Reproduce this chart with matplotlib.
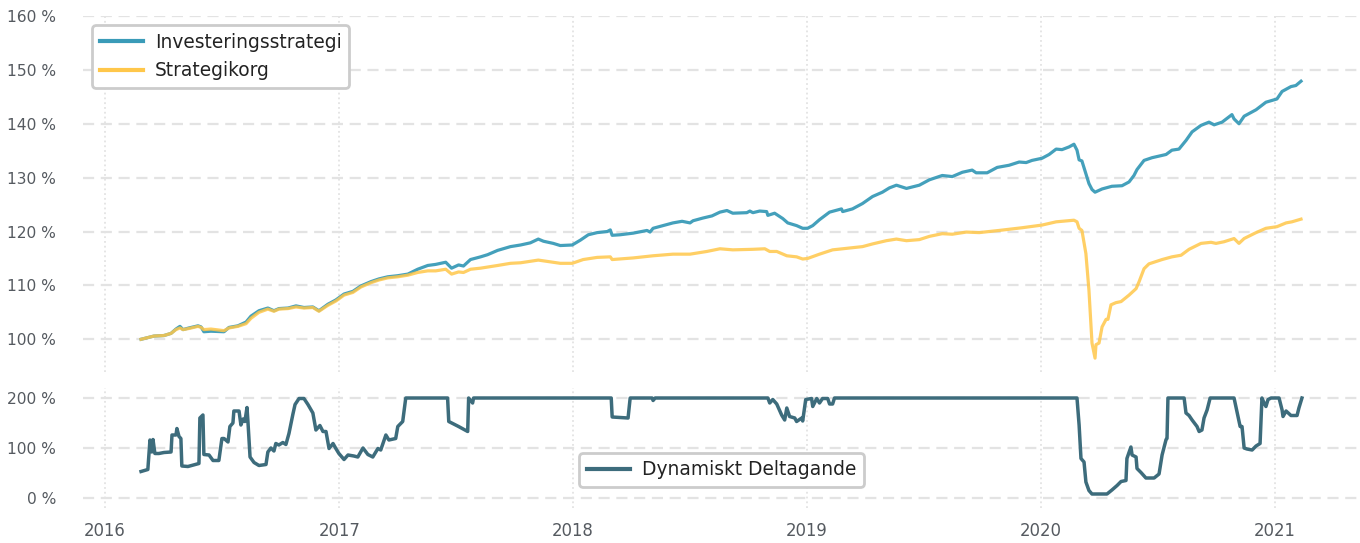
import matplotlib
matplotlib.use("Agg")
import matplotlib.pyplot as plt
import matplotlib.dates as mdates
import numpy as np
import pandas as pd

# decimal-year positions and values
inv_t = [
    2016.154, 2016.209, 2016.252, 2016.282, 2016.303, 2016.320, 2016.333, 2016.358, 2016.397, 2016.410,
    2016.422, 2016.452, 2016.508, 2016.529, 2016.567, 2016.602, 2016.623, 2016.657, 2016.695, 2016.721,
    2016.742, 2016.781, 2016.815, 2016.849, 2016.887, 2016.913, 2016.951, 2016.985, 2017.020, 2017.058,
    2017.092, 2017.135, 2017.169, 2017.207, 2017.250, 2017.293, 2017.335, 2017.378, 2017.412, 2017.455,
    2017.480, 2017.510, 2017.531, 2017.561, 2017.604, 2017.634, 2017.677, 2017.732, 2017.775, 2017.817,
    2017.851, 2017.873, 2017.915, 2017.945, 2017.996, 2018.031, 2018.065, 2018.103, 2018.146, 2018.159,
    2018.167, 2018.201, 2018.257, 2018.316, 2018.329, 2018.342, 2018.385, 2018.427, 2018.466, 2018.500,
    2018.513, 2018.555, 2018.594, 2018.628, 2018.658, 2018.683, 2018.743, 2018.756, 2018.769, 2018.798,
    2018.828, 2018.833, 2018.862, 2018.897, 2018.918, 2018.956, 2018.982, 2019.003, 2019.025, 2019.054,
    2019.097, 2019.148, 2019.153, 2019.195, 2019.238, 2019.281, 2019.323, 2019.353, 2019.383, 2019.426,
    2019.481, 2019.524, 2019.579, 2019.622, 2019.665, 2019.707, 2019.724, 2019.771, 2019.814, 2019.865,
    2019.908, 2019.938, 2019.963, 2020.006, 2020.036, 2020.066, 2020.091, 2020.121, 2020.142, 2020.155,
    2020.164, 2020.176, 2020.206, 2020.219, 2020.232, 2020.262, 2020.304, 2020.347, 2020.377, 2020.398,
    2020.411, 2020.441, 2020.475, 2020.535, 2020.560, 2020.590, 2020.620, 2020.646, 2020.684, 2020.718,
    2020.740, 2020.774, 2020.816, 2020.825, 2020.846, 2020.868, 2020.919, 2020.961, 2021.008, 2021.030,
    2021.068, 2021.089, 2021.111,
]
inv_v = [
    100.0, 100.6, 100.7, 101.1, 101.9, 102.4, 101.8, 102.1, 102.5, 102.3,
    101.4, 101.5, 101.4, 102.2, 102.5, 103.2, 104.3, 105.3, 105.8, 105.3,
    105.7, 105.8, 106.2, 105.9, 106.0, 105.3, 106.5, 107.3, 108.4, 108.9,
    109.9, 110.7, 111.2, 111.6, 111.8, 112.1, 113.0, 113.7, 113.9, 114.3,
    113.2, 113.8, 113.6, 114.8, 115.3, 115.7, 116.5, 117.2, 117.5, 117.9,
    118.6, 118.2, 117.8, 117.4, 117.5, 118.4, 119.4, 119.8, 120.0, 120.3,
    119.3, 119.4, 119.7, 120.2, 119.9, 120.6, 121.1, 121.6, 121.9, 121.6,
    122.0, 122.5, 122.9, 123.6, 123.9, 123.4, 123.5, 123.8, 123.5, 123.8,
    123.7, 123.0, 123.4, 122.4, 121.6, 121.1, 120.6, 120.6, 121.1, 122.2,
    123.6, 124.2, 123.7, 124.2, 125.2, 126.5, 127.3, 128.1, 128.6, 128.0,
    128.6, 129.6, 130.4, 130.2, 131.0, 131.4, 130.9, 130.9, 131.9, 132.3,
    132.9, 132.8, 133.2, 133.6, 134.3, 135.3, 135.2, 135.7, 136.2, 135.1,
    133.3, 133.1, 128.9, 127.8, 127.3, 127.9, 128.4, 128.5, 129.2, 130.4,
    131.5, 133.2, 133.7, 134.3, 135.1, 135.3, 136.9, 138.5, 139.7, 140.3,
    139.8, 140.3, 141.7, 140.9, 140.0, 141.4, 142.6, 144.0, 144.6, 146.0,
    146.9, 147.1, 147.9,
]

korg_t = [
    2016.154, 2016.209, 2016.252, 2016.282, 2016.303, 2016.320, 2016.333, 2016.358, 2016.397, 2016.410,
    2016.422, 2016.452, 2016.508, 2016.529, 2016.567, 2016.602, 2016.623, 2016.657, 2016.695, 2016.721,
    2016.742, 2016.781, 2016.815, 2016.849, 2016.887, 2016.913, 2016.951, 2016.985, 2017.020, 2017.058,
    2017.092, 2017.135, 2017.169, 2017.207, 2017.250, 2017.293, 2017.335, 2017.378, 2017.412, 2017.455,
    2017.480, 2017.510, 2017.531, 2017.561, 2017.604, 2017.677, 2017.732, 2017.775, 2017.851, 2017.945,
    2017.996, 2018.043, 2018.103, 2018.159, 2018.167, 2018.257, 2018.342, 2018.427, 2018.500, 2018.572,
    2018.628, 2018.683, 2018.769, 2018.820, 2018.841, 2018.871, 2018.914, 2018.956, 2018.982, 2019.003,
    2019.054, 2019.110, 2019.153, 2019.195, 2019.238, 2019.281, 2019.340, 2019.383, 2019.426, 2019.481,
    2019.524, 2019.579, 2019.622, 2019.682, 2019.737, 2019.822, 2019.920, 2020.006, 2020.066, 2020.142,
    2020.155, 2020.164, 2020.176, 2020.193, 2020.206, 2020.219, 2020.232, 2020.236, 2020.249, 2020.262,
    2020.279, 2020.287, 2020.300, 2020.321, 2020.343, 2020.377, 2020.407, 2020.420, 2020.441, 2020.462,
    2020.518, 2020.560, 2020.599, 2020.633, 2020.684, 2020.727, 2020.748, 2020.782, 2020.825, 2020.846,
    2020.868, 2020.919, 2020.961, 2021.008, 2021.047, 2021.072, 2021.111,
]
korg_v = [
    100.0, 100.6, 100.7, 101.1, 101.8, 102.1, 101.8, 102.0, 102.4, 102.2,
    101.8, 101.9, 101.6, 102.1, 102.4, 102.9, 103.9, 105.0, 105.6, 105.2,
    105.6, 105.7, 106.0, 105.8, 105.9, 105.2, 106.3, 107.1, 108.2, 108.7,
    109.7, 110.5, 111.0, 111.4, 111.6, 111.9, 112.4, 112.7, 112.7, 113.0,
    112.1, 112.5, 112.4, 113.0, 113.2, 113.7, 114.1, 114.2, 114.7, 114.1,
    114.1, 114.8, 115.2, 115.3, 114.8, 115.1, 115.5, 115.8, 115.8, 116.3,
    116.8, 116.6, 116.7, 116.8, 116.3, 116.3, 115.5, 115.3, 114.9, 115.0,
    115.8, 116.6, 116.8, 117.0, 117.2, 117.7, 118.3, 118.6, 118.3, 118.5,
    119.1, 119.6, 119.5, 119.9, 119.8, 120.2, 120.7, 121.2, 121.8, 122.1,
    121.8, 120.6, 120.2, 115.9, 109.1, 99.3, 96.5, 99.0, 99.3, 102.3,
    103.7, 103.7, 106.4, 106.8, 107.0, 108.2, 109.4, 110.7, 113.1, 114.0,
    114.8, 115.3, 115.6, 116.7, 117.8, 118.0, 117.8, 118.1, 118.7, 117.8,
    118.7, 119.8, 120.6, 120.9, 121.6, 121.8, 122.3,
]

dyn_t = [
    2016.154, 2016.183, 2016.192, 2016.200, 2016.205, 2016.213, 2016.230, 2016.252, 2016.282, 2016.286,
    2016.303, 2016.307, 2016.316, 2016.324, 2016.328, 2016.354, 2016.401, 2016.405, 2016.418, 2016.422,
    2016.444, 2016.461, 2016.486, 2016.499, 2016.508, 2016.525, 2016.533, 2016.546, 2016.550, 2016.572,
    2016.580, 2016.589, 2016.597, 2016.606, 2016.610, 2016.619, 2016.636, 2016.657, 2016.687, 2016.695,
    2016.708, 2016.721, 2016.729, 2016.742, 2016.759, 2016.772, 2016.785, 2016.802, 2016.811, 2016.828,
    2016.849, 2016.866, 2016.887, 2016.900, 2016.917, 2016.930, 2016.943, 2016.956, 2016.973, 2016.985,
    2016.998, 2017.020, 2017.037, 2017.062, 2017.079, 2017.101, 2017.122, 2017.143, 2017.165, 2017.177,
    2017.199, 2017.212, 2017.241, 2017.250, 2017.271, 2017.284, 2017.463, 2017.468, 2017.510, 2017.549,
    2017.553, 2017.570, 2017.574, 2018.163, 2018.167, 2018.235, 2018.244, 2018.338, 2018.342, 2018.351,
    2018.833, 2018.841, 2018.854, 2018.871, 2018.892, 2018.905, 2018.914, 2018.926, 2018.948, 2018.956,
    2018.978, 2018.982, 2018.995, 2019.020, 2019.025, 2019.042, 2019.054, 2019.067, 2019.089, 2019.097,
    2019.110, 2019.118, 2020.155, 2020.164, 2020.172, 2020.185, 2020.193, 2020.206, 2020.219, 2020.283,
    2020.304, 2020.326, 2020.343, 2020.364, 2020.368, 2020.385, 2020.390, 2020.407, 2020.411, 2020.428,
    2020.449, 2020.484, 2020.505, 2020.518, 2020.535, 2020.539, 2020.543, 2020.612, 2020.620, 2020.633,
    2020.646, 2020.667, 2020.676, 2020.688, 2020.697, 2020.710, 2020.723, 2020.825, 2020.842, 2020.851,
    2020.859, 2020.868, 2020.880, 2020.902, 2020.919, 2020.936, 2020.944, 2020.953, 2020.961, 2020.970,
    2020.983, 2021.017, 2021.030, 2021.034, 2021.047, 2021.068, 2021.094, 2021.102, 2021.115,
]
dyn_v = [
    53, 57, 116, 92, 117, 89, 89, 91, 92, 126,
    126, 139, 123, 119, 64, 63, 69, 160, 166, 87,
    86, 75, 75, 119, 119, 112, 143, 150, 174, 174,
    146, 158, 153, 181, 153, 82, 71, 65, 67, 92,
    100, 94, 109, 106, 111, 107, 129, 168, 187, 199,
    199, 187, 170, 136, 145, 133, 133, 99, 109, 99,
    89, 77, 86, 84, 82, 100, 87, 82, 99, 96,
    126, 116, 119, 143, 153, 200, 200, 153, 143, 133,
    200, 190, 200, 200, 162, 160, 200, 200, 195, 200,
    200, 190, 197, 188, 166, 156, 180, 163, 160, 153,
    160, 154, 197, 199, 183, 199, 190, 199, 199, 188,
    188, 200, 200, 146, 79, 72, 32, 15, 8, 8,
    16, 25, 33, 35, 79, 102, 86, 82, 59, 51,
    40, 40, 48, 86, 117, 119, 200, 200, 170, 165,
    156, 143, 133, 136, 160, 176, 200, 200, 163, 143,
    143, 100, 98, 96, 104, 109, 200, 190, 183, 197,
    200, 200, 176, 163, 174, 165, 165, 180, 200,
]

year_ticks = [2016, 2017, 2018, 2019, 2020, 2021]
top_yticks = [100, 110, 120, 130, 140, 150, 160]
bottom_yticks = [0, 100, 200]


def to_dates(years):
    out = []
    for t in years:
        y = int(np.floor(t))
        start = pd.Timestamp(year=y, month=1, day=1)
        n_days = 366 if pd.Timestamp(year=y, month=12, day=31).dayofyear == 366 else 365
        out.append(start + pd.Timedelta(days=(t - y) * n_days))
    return pd.to_datetime(out)


inv_x = to_dates(inv_t)
korg_x = to_dates(korg_t)
dyn_x = to_dates(dyn_t)

blue = "#3a9bb8"
yellow = "#ffc74a"
teal = "#3d6c7c"
tick_color = "#555a60"

fig = plt.figure(figsize=(13.6, 5.43), dpi=100)
ax = fig.add_axes([83 / 1360, 1 - 372 / 543, 1 - 83 / 1360, 356 / 543])
ax2 = fig.add_axes([83 / 1360, 1 - 508 / 543, 1 - 83 / 1360, 120 / 543], sharex=ax)

ax.plot(inv_x, inv_v, color=blue, lw=2.3, alpha=0.95, label="Investeringsstrategi")
ax.plot(korg_x, korg_v, color=yellow, lw=2.3, alpha=0.85, label="Strategikorg")
ax.set_ylim(top=160)
ax.set_yticks(top_yticks)
ax.set_yticklabels([f"{v} %" for v in top_yticks])

ax2.plot(dyn_x, dyn_v, color=teal, lw=2.5, label="Dynamiskt Deltagande")
ax2.set_ylim(-20, 220)
ax2.set_yticks(bottom_yticks)
ax2.set_yticklabels([f"{v} %" for v in bottom_yticks])

ax2.set_xticks([pd.Timestamp(year=y, month=1, day=1) for y in year_ticks])
ax2.xaxis.set_major_formatter(mdates.DateFormatter("%Y"))

for a in (ax, ax2):
    for s in a.spines.values():
        s.set_visible(False)
    a.grid(axis="y", color="#e3e3e3", lw=1.6, linestyle=(0, (5, 3)))
    a.grid(axis="x", color="#e3e3e3", lw=1.3, linestyle=":")
    a.tick_params(length=0, colors=tick_color)
    a.tick_params(axis="y", labelsize=11.2, pad=19.5)
    a.set_axisbelow(True)

ax.tick_params(axis="x", labelbottom=False)
ax2.tick_params(axis="x", labelsize=11.9, pad=10)

leg_kw = dict(fontsize=13.4, frameon=True, fancybox=True, edgecolor="#cccccc",
              framealpha=1, handlelength=2.3, handletextpad=0.65, borderpad=0.4)
lg = ax.legend(loc="upper left", bbox_to_anchor=(0.0, 1.0), **leg_kw)
lg.get_frame().set_linewidth(2)
lg2 = ax2.legend(loc="lower center", bbox_to_anchor=(0.5, 0.1), **leg_kw)
lg2.get_frame().set_linewidth(2)
for lg_ in (lg, lg2):
    for h in lg_.get_lines():
        h.set_linewidth(3)
        h.set_alpha(1)
    for t in lg_.get_texts():
        t.set_color("#222222")

fig.savefig("out.png", dpi=100, facecolor="white")
